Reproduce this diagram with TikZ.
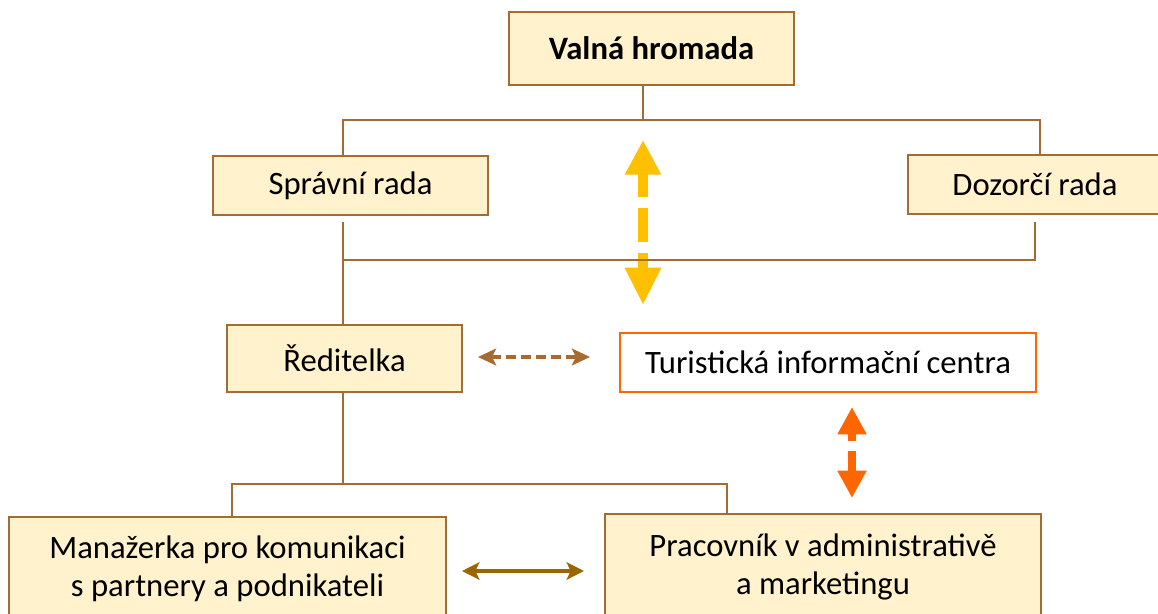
\documentclass[tikz,border=0pt]{standalone}
\usepackage{fontspec}
\setmainfont{Carlito}
\usetikzlibrary{arrows.meta}
\definecolor{brd}{RGB}{163,108,52}
\definecolor{boxfill}{RGB}{255,242,204}
\definecolor{ylw}{RGB}{255,192,0}
\definecolor{org}{RGB}{255,102,0}
\definecolor{brA}{RGB}{166,106,50}
\definecolor{brB}{RGB}{156,101,0}
\begin{document}
\begin{tikzpicture}[x=0.75pt,y=-0.75pt,
  orgbox/.style={draw=brd, fill=boxfill, line width=1.5pt, inner sep=0pt, align=center,
    font=\fontsize{24.5}{28.5}\selectfont, text=black},
  ticbox/.style={orgbox, draw=org, fill=white},
  conn/.style={draw=brd, line width=1.5pt},
  yarrow/.style={draw=ylw, line width=7.5pt,
    dash pattern=on 18pt off 8.25pt on 25.5pt off 8.25pt on 40pt,
    {Triangle[length=26pt,width=25.5pt]}-{Triangle[length=28pt,width=25.5pt]}},
  oarrow/.style={draw=org, line width=6pt,
    dash pattern=on 6pt off 7.5pt on 40pt,
    {Triangle[length=20.5pt,width=20.5pt]}-{Triangle[length=20.5pt,width=20.5pt]}},
  darrow/.style={draw=brA, line width=3pt, dash pattern=on 7.5pt off 3.75pt,
    {Stealth[length=13.5pt,width=12.5pt,inset=3pt]}-{Stealth[length=13.5pt,width=12.5pt,inset=3pt]}},
  sarrow/.style={draw=brB, line width=3pt,
    {Stealth[length=13pt,width=13pt,inset=3pt]}-{Stealth[length=13pt,width=13pt,inset=3pt]}}
]
\useasboundingbox[fill=white] (0,0) rectangle (1158,614);

\node[orgbox, minimum width=213.75pt, minimum height=54.75pt, font=\fontsize{24.5}{28.5}\selectfont\bfseries] (VH) at (651.5,48.5) {Valná hromada};
\node[orgbox, minimum width=206.25pt, minimum height=44.25pt] (SR) at (350.5,185.5) {Správní rada};
\node[orgbox, minimum width=190.5pt, minimum height=44.25pt] (DR) at (1035,184.5) {Dozorčí rada};
\node[orgbox, minimum width=176.25pt, minimum height=50.25pt] (RE) at (344.5,358.5) {Ředitelka};
\node[ticbox, minimum width=312pt, minimum height=44.25pt] (TIC) at (828,362.5) {Turistická informační centra};
\node[orgbox, minimum width=327.75pt, minimum height=78pt] (MAN) at (227.5,569) {Manažerka pro komunikaci\\s partnery a podnikateli};
\node[orgbox, minimum width=327pt, minimum height=79.5pt] (PRA) at (823,567) {Pracovník v administrativě\\a marketingu};

% connectors top
\coordinate (j1) at (643,120);
\coordinate (a) at (343,120);
\coordinate (b) at (1040,120);
\draw[conn] (j1 |- VH.south) -- (j1);
\draw[conn] (a |- SR.north) -- (a) -- (b) -- (b |- DR.north);

% connectors middle
\coordinate (c) at (343,222);
\coordinate (d) at (343,260);
\coordinate (e) at (1035,260);
\coordinate (f) at (1035,222);

% yellow arrow
\coordinate (y1) at (643,140);
\coordinate (y2) at (643,305);
\draw[yarrow] (y1) -- (y2);

\draw[conn] (c) -- (c |- RE.north);
\draw[conn] (d) -- (e) -- (f);

% connectors bottom
\coordinate (g) at (343,484);
\coordinate (h) at (232,484);
\coordinate (i) at (727,484);
\draw[conn] (g |- RE.south) -- (g);
\draw[conn] (h |- MAN.north) -- (h) -- (i) -- (i |- PRA.north);

% brown dashed arrow
\coordinate (bd1) at (478,357);
\coordinate (bd2) at (590,357);
\draw[darrow] (bd1) -- (bd2);

% orange arrow
\coordinate (o1) at (852,407);
\coordinate (o2) at (852,498);
\draw[oarrow] (o1) -- (o2);

% brown solid arrow
\coordinate (s1) at (462,571);
\coordinate (s2) at (584,571);
\draw[sarrow] (s1) -- (s2);
\end{tikzpicture}
\end{document}
